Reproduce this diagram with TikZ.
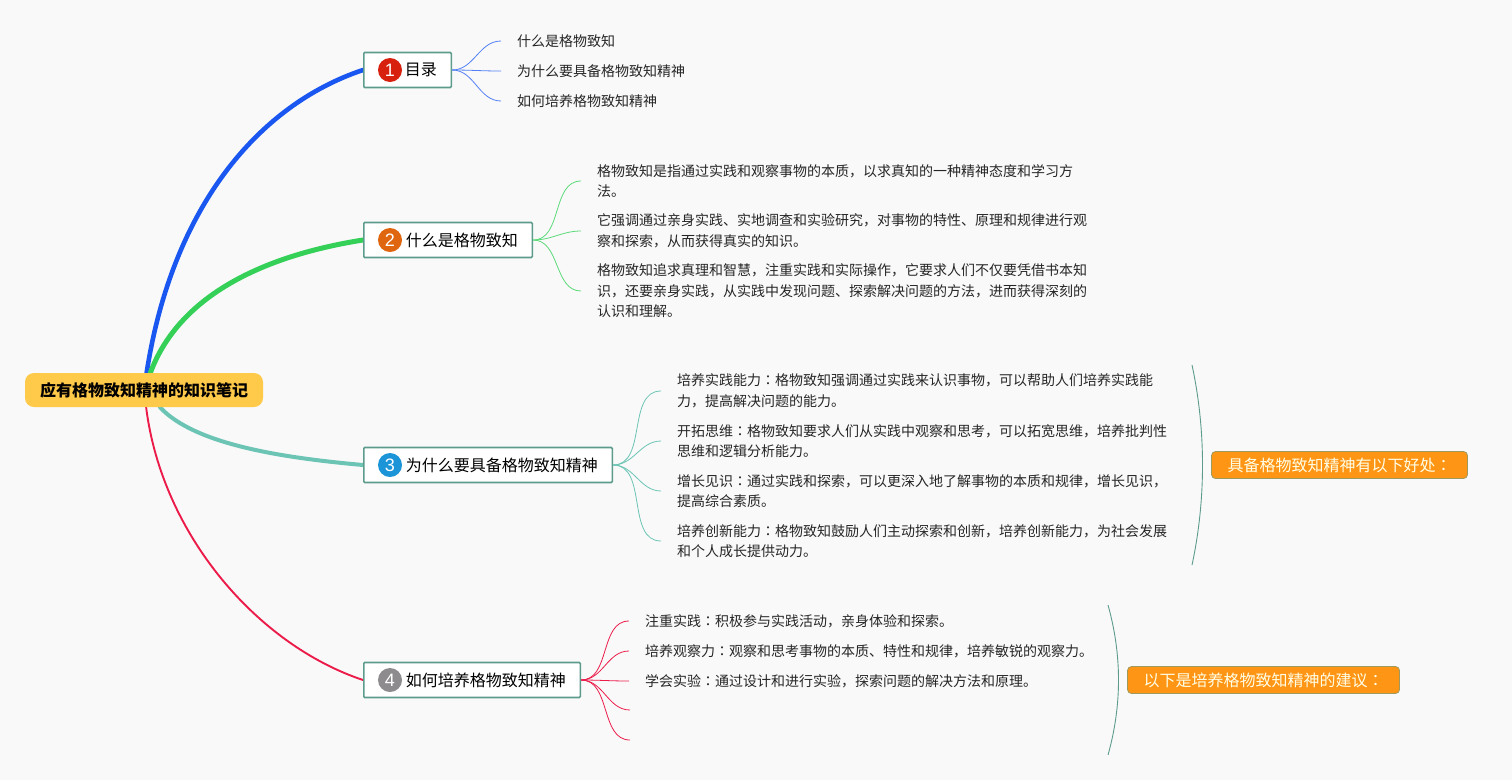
\documentclass[tikz,border=0pt]{standalone}
\usepackage{fontspec}
\setmainfont{Noto Sans CJK SC}
\newfontfamily\digitfont{Liberation Sans}
\newfontfamily\twfont{Noto Sans CJK TC}
\newcommand{\midcolon}{{\twfont ：}}
\usetikzlibrary{backgrounds}
\definecolor{paper}{HTML}{F9F9FA}
\definecolor{rootfill}{HTML}{FFC94A}
\definecolor{frame}{HTML}{5D9C8C}
\definecolor{notefill}{HTML}{FF9514}
\definecolor{goalcol}{HTML}{1A56F0}
\definecolor{whatcol}{HTML}{34D058}
\definecolor{whycol}{HTML}{6CC5B4}
\definecolor{howcol}{HTML}{EC1C4A}
\definecolor{goalnumcol}{HTML}{D8200F}
\definecolor{whatnumcol}{HTML}{E0650F}
\definecolor{whynumcol}{HTML}{1B95D8}
\definecolor{hownumcol}{HTML}{8E8B8F}
\tikzset{
  root/.style={fill=rootfill,rounded corners=9pt,minimum height=34pt,inner xsep=15pt,inner ysep=0pt,font=\fontsize{16}{20}\selectfont\bfseries},
  branch/.style={draw=frame,line width=1.6pt,fill=white,rounded corners=1pt,anchor=west,minimum height=35pt,inner xsep=14.5pt,inner ysep=0pt,text width=#1,align=right,font=\fontsize{16}{20}\selectfont},
  badge/.style={circle,fill=#1,text=white,minimum size=24pt,inner sep=0pt,font=\fontsize{18}{20}\digitfont},
  leaf/.style={anchor=west,inner xsep=16pt,inner ysep=0pt,align=left,text=black!85,font=\fontsize{14}{20.4}\selectfont},
  note/.style={draw=frame!60!notefill,line width=.8pt,fill=notefill,text=white!90!yellow,rounded corners=4pt,minimum height=27pt,inner xsep=16pt,inner ysep=0pt,font=\fontsize{16}{20}\selectfont},
  trunk/.style={line width=#1,line cap=round},
  twig/.style={out=0,in=180,line width=.8pt},
  brace/.style={draw=frame,line width=.9pt}
}
\begin{document}
\begin{tikzpicture}[x=1pt,y=-1pt]
    \useasboundingbox (0,0) rectangle (1512,780);
    % root and the four branches
    \node[root] (root) at (144,390) {应有格物致知精神的知识笔记};
    \node[branch=58.5pt] (goal) at (363,70) {目录};
    \node[branch=139.5pt] (what) at (363,240) {什么是格物致知};
    \node[branch=219.5pt] (why) at (363,465) {为什么要具备格物致知精神};
    \node[branch=187.5pt] (how) at (363,680) {如何培养格物致知精神};
    \node[badge=goalnumcol] (goalnum) at (390,70) {1};
    \node[badge=whatnumcol] (whatnum) at (390,240) {2};
    \node[badge=whynumcol] (whynum) at (390,465) {3};
    \node[badge=hownumcol] (hownum) at (390,680) {4};
    % leaves
    \node[leaf] (goala) at (501,41) {什么是格物致知};
    \node[leaf] (goalb) at (501,71) {为什么要具备格物致知精神};
    \node[leaf] (goalc) at (501,101) {如何培养格物致知精神};
    \node[leaf] (whata) at (581,181) {格物致知是指通过实践和观察事物的本质，以求真知的一种精神态度和学习方\\法。};
    \node[leaf] (whatb) at (581,231) {它强调通过亲身实践、实地调查和实验研究，对事物的特性、原理和规律进行观\\察和探索，从而获得真实的知识。};
    \node[leaf] (whatc) at (581,291) {格物致知追求真理和智慧，注重实践和实际操作，它要求人们不仅要凭借书本知\\识，还要亲身实践，从实践中发现问题、探索解决问题的方法，进而获得深刻的\\认识和理解。};
    \node[leaf] (whya) at (661,391) {培养实践能力\midcolon 格物致知强调通过实践来认识事物，可以帮助人们培养实践能\\力，提高解决问题的能力。};
    \node[leaf] (whyb) at (661,441) {开拓思维\midcolon 格物致知要求人们从实践中观察和思考，可以拓宽思维，培养批判性\\思维和逻辑分析能力。};
    \node[leaf] (whyc) at (661,491) {增长见识\midcolon 通过实践和探索，可以更深入地了解事物的本质和规律，增长见识，\\提高综合素质。};
    \node[leaf] (whyd) at (661,541) {培养创新能力\midcolon 格物致知鼓励人们主动探索和创新，培养创新能力，为社会发展\\和个人成长提供动力。};
    \node[leaf] (howa) at (629,621) {注重实践\midcolon 积极参与实践活动，亲身体验和探索。};
    \node[leaf] (howb) at (629,651) {培养观察力\midcolon 观察和思考事物的本质、特性和规律，培养敏锐的观察力。};
    \node[leaf] (howc) at (629,681) {学会实验\midcolon 通过设计和进行实验，探索问题的解决方法和原理。};
    \coordinate (howd) at (630,710);
    \coordinate (howe) at (630,740);
    % notes and their braces
    \coordinate (whytop) at (1192,365);
    \coordinate (whyend) at (1192,565);
    \coordinate (howtop) at (1108,605);
    \coordinate (howend) at (1108,755);
    \node[note] (whynote) at (1339.5,465) {具备格物致知精神有以下好处\midcolon};
    \node[note] (hownote) at (1263.5,680) {以下是培养格物致知精神的建议\midcolon};
    \path[brace] (whytop) .. controls +(14,65) and +(14,-65) .. (whyend);
    \path[brace] (howtop) .. controls +(14,50) and +(14,-50) .. (howend);
    \begin{scope}[on background layer]
    \fill[paper] (0,0) rectangle (1512,780);
    \draw[trunk=4.6pt,goalcol] (root) .. controls (172,208) and (258,105) .. (goal.west);
    \draw[trunk=5pt,whatcol] (root) .. controls (180,293) and (268,255) .. (what.west);
    \draw[trunk=4pt,whycol] (root) .. controls (195,445) and (285,458) .. (why.west);
    \draw[trunk=1.9pt,howcol] (root) .. controls (162,535) and (258,645) .. (how.west);
    \end{scope}
    \path[twig,goalcol!75]
    (goal.east) edge (goala.west) edge (goalb.west) edge (goalc.west);
    \path[twig,whatcol!80]
    (what.east) edge (whata.west) edge (whatb.west) edge (whatc.west);
    \path[twig,whycol]
    (why.east) edge (whya.west) edge (whyb.west) edge (whyc.west) edge (whyd.west);
    \path[twig,howcol]
    (how.east) edge (howa.west) edge (howb.west) edge (howc.west) edge (howd) edge (howe);
  \end{tikzpicture}
\end{document}
